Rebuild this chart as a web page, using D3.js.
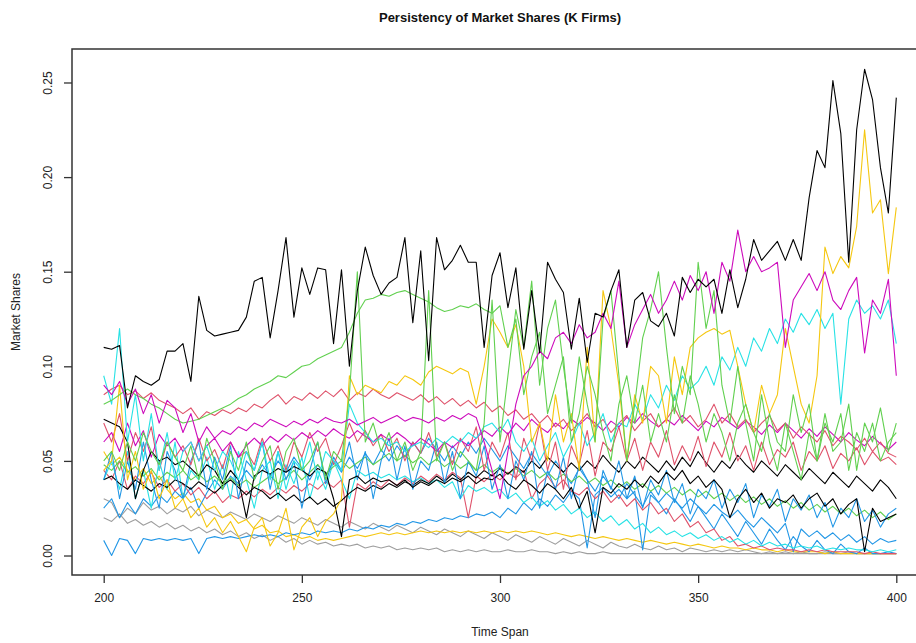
<!DOCTYPE html>
<html>
<head>
<meta charset="utf-8">
<script src="https://cdn.jsdelivr.net/npm/d3@7"></script>
<style>
  html, body { margin: 0; padding: 0; background: #ffffff; }
  svg { display: block; font-family: "Liberation Sans", Arial, sans-serif; }
</style>
</head>
<body>
<svg id="chart" width="916" height="643"></svg>
<script>
// ---------------- DATA ----------------
const chartTitle = "Persistency of Market Shares (K Firms)";
const xLabel = "Time Span";
const yLabel = "Market Shares";
const xTicks = [200, 250, 300, 350, 400];
const yTicks = [0.00, 0.05, 0.10, 0.15, 0.20, 0.25];

const timeSpan = [200,202,204,206,208,210,212,214,216,218,220,222,224,226,228,230,232,234,236,238,
240,242,244,246,248,250,252,254,256,258,260,262,264,266,268,270,272,274,276,278,
280,282,284,286,288,290,292,294,296,298,300,302,304,306,308,310,312,314,316,318,
320,322,324,326,328,330,332,334,336,338,340,342,344,346,348,350,352,354,356,358,
360,362,364,366,368,370,372,374,376,378,380,382,384,386,388,390,392,394,396,398,400];

const firmLeader = [0.110,0.109,0.111,0.078,0.095,0.092,0.090,0.093,0.108,0.108,
0.112,0.092,0.137,0.119,0.116,0.117,0.118,0.119,0.126,0.145,
0.147,0.115,0.140,0.168,0.126,0.152,0.138,0.152,0.151,0.112,
0.151,0.100,0.140,0.163,0.148,0.138,0.144,0.147,0.168,0.123,
0.161,0.103,0.168,0.151,0.156,0.164,0.155,0.155,0.110,0.148,
0.160,0.131,0.152,0.109,0.140,0.107,0.155,0.146,0.139,0.109,
0.136,0.102,0.128,0.126,0.140,0.151,0.110,0.135,0.139,0.124,
0.121,0.128,0.116,0.147,0.139,0.146,0.142,0.146,0.128,0.151,
0.131,0.146,0.167,0.156,0.161,0.166,0.156,0.167,0.156,0.189,
0.214,0.205,0.251,0.223,0.155,0.225,0.257,0.241,0.205,0.181,0.242];

const firmGreenA = [0.080,0.082,0.085,0.088,0.085,0.083,0.080,0.078,0.075,0.072,
0.070,0.071,0.072,0.074,0.076,0.078,0.080,0.083,0.085,0.088,
0.090,0.092,0.095,0.094,0.097,0.100,0.101,0.104,0.106,0.108,
0.110,0.118,0.128,0.135,0.136,0.138,0.137,0.139,0.140,0.138,
0.136,0.134,0.131,0.129,0.130,0.132,0.131,0.133,0.130,0.128,
0.132,0.110,0.125,0.085,0.105,0.118,0.075,0.090,0.105,0.060,
0.075,0.100,0.085,0.065,0.050,0.080,0.095,0.070,0.090,0.060,
0.075,0.060,0.085,0.070,0.095,0.080,0.060,0.075,0.065,0.050,
0.070,0.080,0.065,0.055,0.075,0.060,0.055,0.085,0.065,0.080,
0.050,0.070,0.060,0.075,0.045,0.065,0.055,0.070,0.050,0.060,0.065];

const firmMagentaA = [0.090,0.085,0.092,0.080,0.088,0.075,0.085,0.070,0.082,0.078,
0.065,0.075,0.060,0.068,0.062,0.066,0.064,0.068,0.066,0.070,
0.068,0.072,0.070,0.068,0.071,0.069,0.072,0.070,0.073,0.071,
0.070,0.072,0.069,0.071,0.073,0.070,0.072,0.074,0.071,0.073,
0.072,0.070,0.073,0.071,0.074,0.072,0.075,0.073,0.060,0.045,
0.030,0.055,0.080,0.095,0.100,0.108,0.104,0.115,0.118,0.112,
0.122,0.115,0.118,0.128,0.120,0.145,0.110,0.122,0.130,0.138,
0.128,0.135,0.145,0.135,0.148,0.140,0.150,0.128,0.155,0.145,
0.172,0.150,0.158,0.150,0.152,0.155,0.110,0.135,0.142,0.149,
0.140,0.150,0.135,0.130,0.140,0.147,0.107,0.135,0.128,0.146,0.095];

const firmYellowA = [0.045,0.050,0.090,0.040,0.055,0.035,0.045,0.030,0.040,0.025,
0.030,0.020,0.025,0.015,0.020,0.012,0.018,0.010,0.002,0.015,
0.020,0.005,0.012,0.025,0.003,0.015,0.020,0.010,0.018,0.022,
0.030,0.095,0.085,0.090,0.088,0.086,0.092,0.090,0.095,0.093,
0.090,0.097,0.100,0.098,0.096,0.099,0.097,0.080,0.100,0.125,
0.118,0.110,0.122,0.100,0.060,0.070,0.050,0.085,0.060,0.075,
0.045,0.110,0.060,0.140,0.120,0.090,0.050,0.085,0.070,0.100,
0.095,0.070,0.105,0.085,0.110,0.115,0.118,0.120,0.117,0.119,
0.100,0.080,0.065,0.090,0.075,0.085,0.120,0.100,0.080,0.070,
0.095,0.163,0.149,0.158,0.152,0.174,0.225,0.181,0.188,0.149,0.184];

const firmCyanA = [0.095,0.080,0.120,0.060,0.085,0.050,0.075,0.045,0.065,0.040,
0.055,0.060,0.050,0.058,0.045,0.055,0.050,0.040,0.055,0.045,
0.060,0.040,0.055,0.035,0.050,0.045,0.060,0.040,0.055,0.050,
0.045,0.080,0.070,0.065,0.060,0.062,0.058,0.060,0.055,0.058,
0.060,0.057,0.062,0.059,0.063,0.060,0.065,0.062,0.068,0.070,
0.065,0.072,0.060,0.055,0.062,0.050,0.058,0.065,0.052,0.060,
0.070,0.058,0.065,0.075,0.060,0.070,0.068,0.080,0.072,0.085,
0.078,0.090,0.082,0.095,0.088,0.092,0.100,0.090,0.105,0.098,
0.110,0.100,0.115,0.108,0.120,0.112,0.125,0.118,0.128,0.122,
0.130,0.120,0.128,0.080,0.125,0.135,0.128,0.132,0.125,0.135,0.112];

const firmRedA = [0.085,0.088,0.090,0.085,0.087,0.083,0.086,0.082,0.080,0.078,
0.075,0.078,0.072,0.076,0.074,0.077,0.075,0.078,0.076,0.080,
0.078,0.082,0.085,0.080,0.084,0.082,0.086,0.083,0.087,0.084,
0.088,0.082,0.086,0.084,0.088,0.085,0.083,0.086,0.084,0.082,
0.085,0.081,0.084,0.080,0.083,0.079,0.082,0.078,0.081,0.076,
0.079,0.074,0.077,0.072,0.075,0.070,0.074,0.068,0.072,0.066,
0.070,0.075,0.068,0.072,0.065,0.070,0.074,0.066,0.071,0.075,
0.068,0.072,0.078,0.070,0.074,0.068,0.072,0.080,0.070,0.075,
0.068,0.072,0.065,0.070,0.074,0.066,0.070,0.062,0.068,0.064,
0.060,0.066,0.058,0.063,0.060,0.056,0.062,0.055,0.060,0.054,0.052];

const firmGreenB = [0.050,0.055,0.045,0.060,0.050,0.065,0.055,0.048,0.060,0.052,
0.045,0.058,0.040,0.062,0.050,0.035,0.055,0.045,0.060,0.040,
0.050,0.058,0.035,0.055,0.062,0.045,0.050,0.060,0.040,0.055,
0.050,0.085,0.150,0.060,0.070,0.055,0.065,0.050,0.060,0.045,
0.055,0.140,0.050,0.060,0.045,0.055,0.050,0.045,0.070,0.135,
0.060,0.095,0.130,0.110,0.145,0.090,0.120,0.135,0.100,0.070,
0.105,0.080,0.060,0.125,0.140,0.095,0.050,0.080,0.115,0.130,
0.150,0.110,0.075,0.100,0.085,0.155,0.120,0.140,0.090,0.070,
0.100,0.070,0.050,0.085,0.060,0.045,0.070,0.055,0.040,0.065,
0.050,0.075,0.055,0.060,0.080,0.045,0.070,0.060,0.078,0.055,0.070];

const firmBlackB = [0.072,0.070,0.068,0.060,0.030,0.045,0.055,0.050,0.052,0.048,
0.050,0.046,0.042,0.048,0.045,0.038,0.045,0.040,0.020,0.042,
0.045,0.043,0.046,0.044,0.047,0.045,0.042,0.046,0.044,0.030,
0.010,0.040,0.042,0.038,0.041,0.039,0.040,0.037,0.040,0.036,
0.039,0.037,0.040,0.038,0.041,0.039,0.042,0.038,0.041,0.040,
0.043,0.038,0.035,0.040,0.037,0.033,0.038,0.035,0.030,0.036,
0.025,0.034,0.012,0.036,0.033,0.038,0.035,0.040,0.036,0.042,
0.038,0.044,0.040,0.045,0.038,0.042,0.036,0.040,0.035,0.020,
0.030,0.035,0.028,0.033,0.025,0.030,0.028,0.032,0.025,0.030,
0.033,0.026,0.030,0.022,0.027,0.030,0.002,0.025,0.018,0.020,0.022];

const firmRedB = [0.070,0.060,0.075,0.050,0.065,0.055,0.068,0.045,0.060,0.052,
0.058,0.048,0.062,0.050,0.056,0.046,0.060,0.052,0.055,0.048,
0.062,0.050,0.058,0.045,0.060,0.052,0.065,0.055,0.062,0.048,
0.058,0.070,0.060,0.066,0.058,0.064,0.055,0.062,0.050,0.060,
0.054,0.065,0.052,0.060,0.048,0.062,0.055,0.068,0.045,0.060,
0.052,0.065,0.040,0.062,0.050,0.070,0.045,0.060,0.035,0.058,
0.048,0.066,0.042,0.060,0.055,0.068,0.050,0.062,0.045,0.060,
0.052,0.066,0.048,0.058,0.050,0.063,0.047,0.060,0.052,0.065,
0.050,0.058,0.045,0.060,0.048,0.056,0.052,0.060,0.045,0.055,
0.050,0.058,0.046,0.054,0.050,0.057,0.048,0.055,0.050,0.052,0.048];

const firmBlueA = [0.040,0.055,0.030,0.050,0.035,0.060,0.040,0.025,0.055,0.045,
0.030,0.050,0.060,0.035,0.052,0.040,0.058,0.030,0.050,0.045,
0.060,0.035,0.055,0.040,0.050,0.025,0.045,0.060,0.038,0.052,
0.045,0.060,0.040,0.055,0.030,0.050,0.062,0.040,0.058,0.035,
0.050,0.045,0.060,0.038,0.055,0.030,0.050,0.042,0.058,0.035,
0.048,0.030,0.050,0.040,0.055,0.025,0.045,0.035,0.052,0.030,
0.048,0.040,0.020,0.045,0.035,0.050,0.030,0.042,0.025,0.040,
0.032,0.045,0.028,0.038,0.022,0.035,0.030,0.040,0.025,0.035,
0.028,0.038,0.020,0.032,0.026,0.035,0.018,0.030,0.024,0.032,
0.020,0.028,0.015,0.025,0.020,0.030,0.018,0.024,0.015,0.022,0.025];

const firmMagentaB = [0.060,0.065,0.055,0.070,0.058,0.066,0.052,0.064,0.058,0.062,
0.055,0.060,0.050,0.058,0.062,0.055,0.060,0.052,0.058,0.062,
0.058,0.063,0.060,0.064,0.061,0.065,0.062,0.066,0.063,0.067,
0.064,0.062,0.066,0.063,0.060,0.064,0.061,0.065,0.062,0.058,
0.062,0.059,0.055,0.060,0.057,0.061,0.058,0.062,0.066,0.063,
0.068,0.064,0.070,0.066,0.072,0.068,0.065,0.070,0.067,0.072,
0.069,0.073,0.070,0.066,0.071,0.068,0.073,0.070,0.075,0.071,
0.068,0.072,0.069,0.074,0.070,0.066,0.071,0.068,0.073,0.070,
0.067,0.071,0.068,0.064,0.069,0.065,0.070,0.066,0.062,0.067,
0.063,0.068,0.064,0.060,0.065,0.061,0.058,0.063,0.059,0.056,0.060];

const firmGrayA = [0.030,0.028,0.020,0.025,0.022,0.028,0.024,0.026,0.022,0.025,
0.023,0.026,0.021,0.024,0.022,0.020,0.023,0.021,0.019,0.022,
0.020,0.018,0.021,0.019,0.017,0.020,0.018,0.016,0.019,0.017,
0.015,0.018,0.016,0.014,0.017,0.015,0.013,0.016,0.014,0.012,
0.015,0.013,0.011,0.014,0.012,0.010,0.013,0.011,0.009,0.012,
0.010,0.008,0.011,0.009,0.007,0.010,0.008,0.006,0.009,0.007,
0.005,0.008,0.006,0.004,0.007,0.005,0.004,0.006,0.004,0.003,
0.005,0.003,0.004,0.002,0.004,0.003,0.002,0.003,0.002,0.003,
0.002,0.003,0.002,0.001,0.002,0.001,0.002,0.001,0.002,0.001,
0.001,0.002,0.001,0.001,0.002,0.001,0.001,0.001,0.001,0.001,0.001];

const firmBlueB = [0.008,0.000,0.009,0.008,0.001,0.009,0.008,0.009,0.008,0.009,
0.008,0.009,0.001,0.009,0.010,0.009,0.010,0.009,0.010,0.011,
0.010,0.011,0.010,0.012,0.011,0.012,0.011,0.013,0.012,0.013,
0.012,0.014,0.013,0.015,0.014,0.016,0.015,0.017,0.016,0.018,
0.017,0.019,0.018,0.020,0.019,0.021,0.020,0.022,0.021,0.023,
0.020,0.025,0.022,0.028,0.024,0.030,0.026,0.032,0.028,0.034,
0.030,0.004,0.032,0.036,0.031,0.035,0.030,0.034,0.003,0.032,
0.028,0.033,0.029,0.025,0.030,0.026,0.022,0.027,0.023,0.020,
0.024,0.019,0.015,0.020,0.016,0.012,0.017,0.002,0.014,0.010,
0.013,0.009,0.012,0.008,0.011,0.007,0.010,0.006,0.009,0.007,0.008];

const firmYellowB = [0.055,0.048,0.052,0.045,0.040,0.046,0.038,0.042,0.035,0.030,
0.033,0.028,0.030,0.024,0.026,0.020,0.022,0.017,0.019,0.014,
0.016,0.012,0.013,0.010,0.011,0.009,0.010,0.008,0.009,0.008,
0.009,0.010,0.011,0.010,0.011,0.012,0.011,0.012,0.011,0.012,
0.013,0.012,0.013,0.012,0.013,0.012,0.013,0.012,0.013,0.012,
0.013,0.012,0.013,0.012,0.013,0.012,0.011,0.012,0.011,0.010,
0.011,0.010,0.009,0.010,0.009,0.008,0.009,0.008,0.007,0.008,
0.007,0.006,0.007,0.006,0.005,0.006,0.005,0.004,0.005,0.004,
0.004,0.003,0.004,0.003,0.003,0.002,0.003,0.002,0.002,0.002,
0.002,0.001,0.002,0.001,0.001,0.001,0.001,0.001,0.001,0.001,0.001];

const firmCyanB = [0.040,0.050,0.035,0.055,0.030,0.045,0.025,0.050,0.035,0.060,
0.030,0.045,0.040,0.052,0.035,0.048,0.030,0.055,0.040,0.025,
0.045,0.050,0.030,0.048,0.038,0.052,0.030,0.045,0.035,0.050,
0.040,0.030,0.045,0.042,0.044,0.041,0.043,0.040,0.042,0.039,
0.041,0.038,0.040,0.036,0.039,0.030,0.037,0.034,0.036,0.033,
0.035,0.030,0.033,0.028,0.031,0.026,0.029,0.024,0.027,0.022,
0.025,0.020,0.023,0.018,0.021,0.016,0.019,0.014,0.017,0.012,
0.015,0.011,0.013,0.010,0.012,0.009,0.011,0.008,0.010,0.007,
0.009,0.006,0.008,0.005,0.007,0.005,0.006,0.004,0.005,0.004,
0.005,0.003,0.004,0.003,0.004,0.003,0.003,0.002,0.003,0.002,0.003];

const firmRedC = [0.045,0.040,0.050,0.035,0.042,0.038,0.044,0.036,0.040,0.034,
0.038,0.032,0.036,0.030,0.034,0.028,0.032,0.030,0.034,0.031,
0.035,0.032,0.036,0.033,0.037,0.034,0.038,0.035,0.039,0.036,
0.040,0.015,0.038,0.035,0.039,0.036,0.040,0.037,0.041,0.038,
0.042,0.039,0.043,0.040,0.044,0.041,0.020,0.042,0.039,0.043,
0.040,0.044,0.041,0.045,0.030,0.038,0.042,0.036,0.040,0.034,
0.032,0.036,0.030,0.034,0.028,0.032,0.026,0.030,0.024,0.028,
0.022,0.025,0.018,0.022,0.015,0.018,0.012,0.014,0.008,0.010,
0.005,0.006,0.004,0.005,0.003,0.004,0.003,0.003,0.002,0.003,
0.002,0.003,0.002,0.002,0.002,0.002,0.001,0.002,0.001,0.001,0.001];

const firmGreenC = [0.048,0.045,0.050,0.044,0.047,0.042,0.046,0.040,0.044,0.041,
0.045,0.040,0.043,0.039,0.042,0.038,0.041,0.037,0.040,0.036,
0.039,0.042,0.038,0.041,0.045,0.040,0.044,0.048,0.043,0.047,
0.050,0.046,0.049,0.052,0.048,0.051,0.054,0.050,0.053,0.049,
0.052,0.048,0.051,0.047,0.050,0.046,0.049,0.045,0.048,0.044,
0.047,0.043,0.046,0.042,0.045,0.041,0.044,0.040,0.043,0.039,
0.042,0.038,0.041,0.037,0.040,0.036,0.039,0.035,0.038,0.034,
0.037,0.033,0.036,0.032,0.035,0.031,0.034,0.030,0.033,0.029,
0.032,0.028,0.031,0.027,0.030,0.026,0.029,0.025,0.028,0.024,
0.027,0.023,0.026,0.022,0.025,0.021,0.024,0.020,0.023,0.019,0.022];

const firmBlackC = [0.040,0.042,0.038,0.035,0.040,0.037,0.034,0.038,0.036,0.040,
0.038,0.035,0.039,0.036,0.033,0.037,0.040,0.036,0.032,0.036,
0.034,0.030,0.033,0.029,0.032,0.028,0.031,0.027,0.030,0.026,
0.029,0.033,0.036,0.034,0.037,0.035,0.038,0.036,0.039,0.037,
0.040,0.038,0.042,0.039,0.043,0.040,0.044,0.041,0.045,0.042,
0.046,0.043,0.047,0.044,0.050,0.046,0.052,0.048,0.044,0.049,
0.045,0.050,0.046,0.053,0.048,0.044,0.050,0.046,0.052,0.048,
0.044,0.050,0.045,0.052,0.047,0.055,0.049,0.044,0.050,0.046,
0.053,0.048,0.044,0.050,0.046,0.042,0.048,0.044,0.040,0.046,
0.042,0.038,0.044,0.040,0.036,0.042,0.038,0.034,0.040,0.036,0.030];

const firmGrayB = [0.020,0.018,0.022,0.017,0.019,0.016,0.018,0.015,0.017,0.014,
0.016,0.013,0.015,0.012,0.014,0.011,0.013,0.010,0.012,0.009,
0.011,0.008,0.010,0.007,0.009,0.006,0.008,0.006,0.007,0.005,
0.006,0.005,0.006,0.004,0.005,0.004,0.005,0.003,0.004,0.003,
0.004,0.003,0.004,0.002,0.003,0.002,0.003,0.002,0.003,0.002,
0.002,0.003,0.002,0.002,0.003,0.002,0.002,0.001,0.002,0.001,
0.002,0.001,0.001,0.002,0.001,0.001,0.001,0.001,0.001,0.001,
0.001,0.001,0.001,0.001,0.001,0.001,0.001,0.001,0.001,0.001,
0.001,0.001,0.001,0.001,0.001,0.001,0.001,0.001,0.001,0.001,
0.001,0.001,0.001,0.001,0.001,0.001,0.001,0.001,0.001,0.001,0.001];

const firmBlueC = [0.025,0.030,0.020,0.028,0.022,0.030,0.026,0.032,0.028,0.034,
0.030,0.036,0.025,0.033,0.040,0.035,0.042,0.038,0.045,0.040,
0.048,0.042,0.050,0.044,0.052,0.046,0.040,0.048,0.042,0.050,
0.044,0.052,0.046,0.054,0.048,0.056,0.050,0.058,0.052,0.060,
0.054,0.062,0.056,0.050,0.058,0.052,0.060,0.054,0.062,0.056,
0.050,0.058,0.052,0.046,0.054,0.048,0.042,0.050,0.044,0.038,
0.046,0.040,0.034,0.042,0.036,0.030,0.038,0.032,0.026,0.034,
0.028,0.022,0.030,0.024,0.018,0.026,0.020,0.014,0.022,0.016,
0.010,0.018,0.012,0.006,0.014,0.008,0.003,0.010,0.005,0.002,
0.008,0.003,0.001,0.006,0.002,0.001,0.004,0.001,0.001,0.002,0.001];

// ---------------- STYLE ----------------
const palette = {
  black: "#000000", red: "#DF536B", green: "#61D04F", blue: "#2297E6",
  cyan: "#28E2E5", magenta: "#CD0BBC", yellow: "#F5C710", gray: "#9E9E9E"
};

const seriesList = [
  { values: firmGrayB,    color: palette.gray },
  { values: firmGrayA,    color: palette.gray },
  { values: firmYellowB,  color: palette.yellow },
  { values: firmBlueB,    color: palette.blue },
  { values: firmBlueC,    color: palette.blue },
  { values: firmRedC,     color: palette.red },
  { values: firmCyanB,    color: palette.cyan },
  { values: firmGreenC,   color: palette.green },
  { values: firmBlackC,   color: palette.black },
  { values: firmBlueA,    color: palette.blue },
  { values: firmRedB,     color: palette.red },
  { values: firmMagentaB, color: palette.magenta },
  { values: firmBlackB,   color: palette.black },
  { values: firmRedA,     color: palette.red },
  { values: firmCyanA,    color: palette.cyan },
  { values: firmYellowA,  color: palette.yellow },
  { values: firmGreenB,   color: palette.green },
  { values: firmGreenA,   color: palette.green },
  { values: firmMagentaA, color: palette.magenta },
  { values: firmLeader,   color: palette.black }
];

// ---------------- DRAW ----------------
const plot = { left: 72, right: 928, top: 49, bottom: 575 };

const svg = d3.select("#chart");

const x = d3.scaleLinear().domain([192, 408]).range([plot.left, plot.right]);
const y = d3.scaleLinear().domain([-0.0103, 0.2677]).range([plot.bottom, plot.top]);

svg.append("defs").append("clipPath").attr("id", "clip")
  .append("rect")
  .attr("x", plot.left).attr("y", plot.top)
  .attr("width", plot.right - plot.left).attr("height", plot.bottom - plot.top);

const line = d3.line()
  .x((d, i) => x(timeSpan[i]))
  .y(d => y(d));

const gLines = svg.append("g").attr("clip-path", "url(#clip)");
seriesList.forEach(s => {
  gLines.append("path")
    .datum(s.values)
    .attr("d", line)
    .attr("fill", "none")
    .attr("stroke", s.color)
    .attr("stroke-width", 1.1)
    .attr("stroke-linejoin", "round");
});

// frame
svg.append("rect")
  .attr("x", plot.left).attr("y", plot.top)
  .attr("width", plot.right - plot.left).attr("height", plot.bottom - plot.top)
  .attr("fill", "none").attr("stroke", "#333").attr("stroke-width", 1.5);

// x axis
const xAxis = d3.axisBottom(x).tickValues(xTicks).tickSize(8).tickPadding(10).tickFormat(d3.format("d"));
const gx = svg.append("g").attr("transform", `translate(0,${plot.bottom})`).call(xAxis);
gx.select(".domain").remove();
gx.selectAll(".tick line").attr("stroke", "#333").attr("stroke-width", 1.3);
gx.selectAll(".tick text").attr("fill", "#222").style("font-size", "12px")
  .style("font-family", "'Liberation Sans', Arial, sans-serif");

// y axis
const yAxis = d3.axisLeft(y).tickValues(yTicks).tickSize(8).tickFormat(d3.format(".2f"));
const gy = svg.append("g").attr("transform", `translate(${plot.left},0)`).call(yAxis);
gy.select(".domain").remove();
gy.selectAll(".tick line").attr("stroke", "#333").attr("stroke-width", 1.3);
gy.selectAll(".tick text")
  .attr("fill", "#222").style("font-size", "12px")
  .style("font-family", "'Liberation Sans', Arial, sans-serif")
  .attr("x", null)
  .attr("text-anchor", "middle")
  .attr("transform", "translate(-24,0) rotate(-90)")
  .attr("dy", "0.35em");

// title
svg.append("text")
  .attr("x", (plot.left + plot.right) / 2).attr("y", 22)
  .attr("text-anchor", "middle")
  .style("font-size", "13px").style("font-weight", "bold")
  .attr("fill", "#111")
  .text(chartTitle);

// axis labels
svg.append("text")
  .attr("x", (plot.left + plot.right) / 2).attr("y", 636)
  .attr("text-anchor", "middle")
  .style("font-size", "12px").attr("fill", "#222")
  .text(xLabel);

svg.append("text")
  .attr("transform", `translate(20,${(plot.top + plot.bottom) / 2}) rotate(-90)`)
  .attr("text-anchor", "middle")
  .style("font-size", "12px").attr("fill", "#222")
  .text(yLabel);
</script>
</body>
</html>
